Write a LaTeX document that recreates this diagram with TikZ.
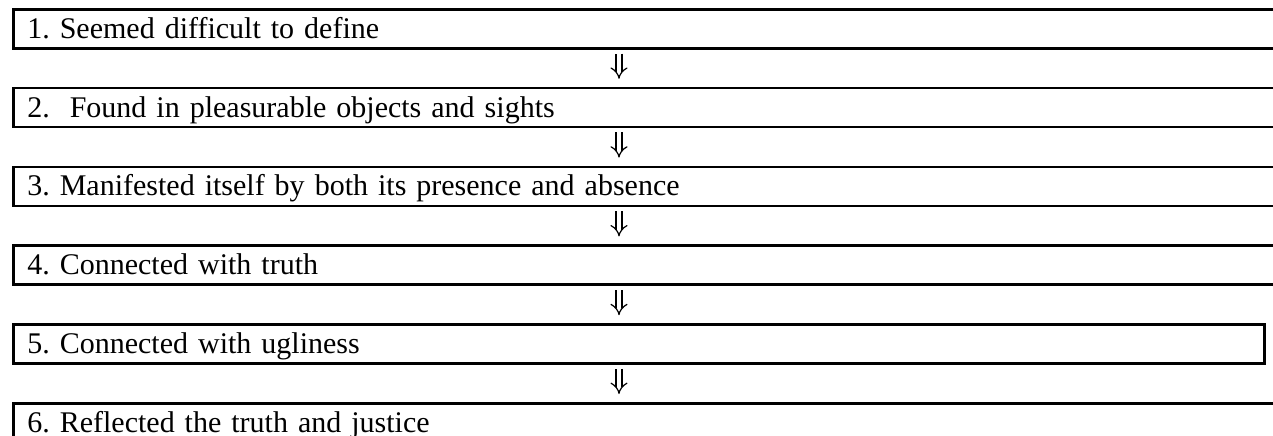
\documentclass[tikz,border=0pt]{standalone}
\usepackage{fontspec}
\setmainfont{Liberation Serif}
\usetikzlibrary{arrows.meta,positioning}

\begin{document}
\frenchspacing
\begin{tikzpicture}[x=0.5pt,y=-0.5pt,node distance=18.6pt,box/.style={draw,line width=1.3pt,
 text width=630pt,align=left,inner xsep=7pt,inner ysep=0pt,text height=14.5pt,text depth=5pt,
 font=\fontsize{15}{18}\selectfont,anchor=north west},
 dimp/.style={draw,double=white,double distance=2.4pt,line width=0.6pt,-{Implies[length=5pt,width=8pt]},
 shorten <=2pt,shorten >=4pt}]
\clip (0,0) rectangle (1273,435);
\node[box] (s1) at (12,8) {1. Seemed difficult to define};
\node[box,below=of s1.south west,anchor=north west] (s2) {2.\ \ Found in pleasurable objects and sights};
\node[box,below=of s2.south west,anchor=north west] (s3) {3. Manifested itself by both its presence and absence};
\node[box,below=of s3.south west,anchor=north west] (s4) {4. Connected with truth};
\node[box,below=of s4.south west,anchor=north west,text width=611.5pt] (s5) {5. Connected with ugliness};
\node[box,below=of s5.south west,anchor=north west] (s6) {6. Reflected the truth and justice};
\coordinate (ax) at (619,0);
\foreach \a/\b in {s1/s2,s2/s3,s3/s4,s4/s5,s5/s6} \draw[dimp] (\a.south -| ax)--(\b.north -| ax);
\end{tikzpicture}
\end{document}
